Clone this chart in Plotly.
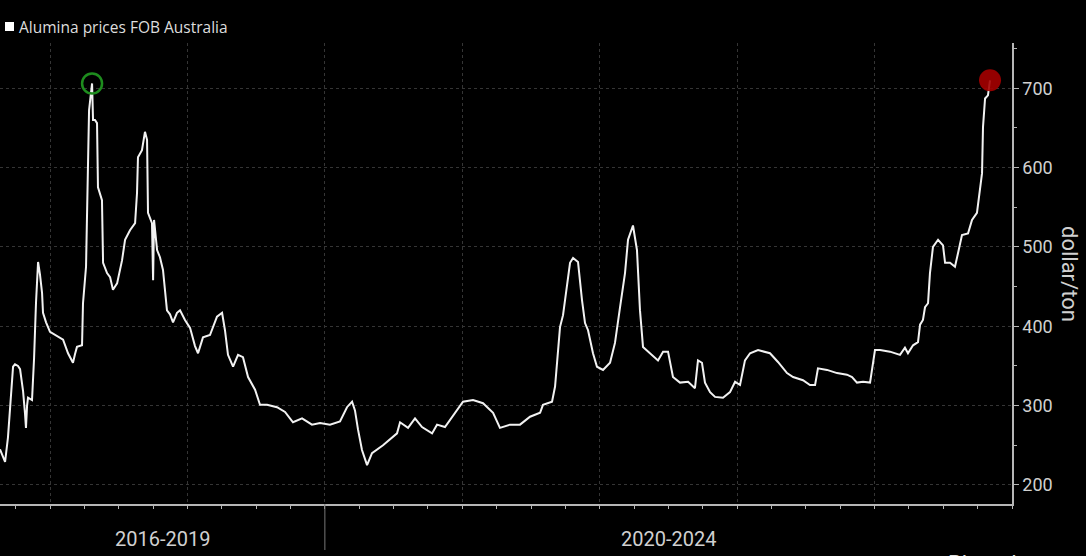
import plotly.graph_objects as go

# Decimal-year time stamps and alumina price, USD/ton
years = [
    2017.636, 2017.658, 2017.673, 2017.694, 2017.716, 2017.731, 2017.745, 2017.767, 2017.782, 2017.804,
    2017.818, 2017.825, 2017.833, 2017.840, 2017.869, 2017.884, 2017.898, 2017.913, 2017.927, 2017.942,
    2017.949, 2017.971, 2018.000, 2018.029, 2018.058, 2018.095, 2018.131, 2018.167, 2018.182, 2018.196,
    2018.233, 2018.240, 2018.262, 2018.269, 2018.277, 2018.284, 2018.306, 2018.313, 2018.327, 2018.342,
    2018.349, 2018.378, 2018.386, 2018.415, 2018.437, 2018.458, 2018.488, 2018.524, 2018.546, 2018.582,
    2018.619, 2018.633, 2018.640, 2018.669, 2018.691, 2018.706, 2018.713, 2018.742, 2018.750, 2018.757,
    2018.779, 2018.800, 2018.822, 2018.837, 2018.851, 2018.873, 2018.895, 2018.924, 2018.946, 2018.982,
    2019.019, 2019.055, 2019.077, 2019.113, 2019.164, 2019.215, 2019.252, 2019.273, 2019.295, 2019.332,
    2019.368, 2019.404, 2019.441, 2019.492, 2019.528, 2019.579, 2019.652, 2019.710, 2019.768, 2019.834,
    2019.906, 2019.965, 2020.037, 2020.110, 2020.161, 2020.198, 2020.219, 2020.241, 2020.270, 2020.307,
    2020.343, 2020.423, 2020.525, 2020.547, 2020.605, 2020.656, 2020.707, 2020.780, 2020.816, 2020.874,
    2020.947, 2021.005, 2021.078, 2021.151, 2021.224, 2021.274, 2021.347, 2021.420, 2021.493, 2021.566,
    2021.587, 2021.653, 2021.675, 2021.711, 2021.733, 2021.762, 2021.784, 2021.806, 2021.842, 2021.871,
    2021.893, 2021.915, 2021.951, 2021.980, 2022.024, 2022.075, 2022.111, 2022.148, 2022.184, 2022.206,
    2022.242, 2022.271, 2022.293, 2022.315, 2022.366, 2022.424, 2022.461, 2022.497, 2022.533, 2022.584,
    2022.643, 2022.693, 2022.715, 2022.744, 2022.766, 2022.803, 2022.839, 2022.897, 2022.948, 2022.985,
    2023.021, 2023.057, 2023.094, 2023.152, 2023.239, 2023.297, 2023.363, 2023.407, 2023.479, 2023.530,
    2023.567, 2023.588, 2023.654, 2023.727, 2023.799, 2023.836, 2023.872, 2023.916, 2023.967, 2024.003,
    2024.040, 2024.112, 2024.185, 2024.221, 2024.243, 2024.280, 2024.316, 2024.331, 2024.352, 2024.367,
    2024.389, 2024.403, 2024.425, 2024.462, 2024.498, 2024.513, 2024.549, 2024.585, 2024.607, 2024.636,
    2024.680, 2024.709, 2024.745, 2024.767, 2024.782, 2024.789, 2024.804, 2024.825, 2024.840,
]
prices = [
    245, 235, 229, 260, 320, 349, 352, 350, 346, 318,
    290, 272, 300, 310, 307, 360, 430, 481, 465, 442,
    417, 405, 393, 390, 387, 383, 366, 354, 365, 374,
    376, 429, 475, 540, 609, 672, 706, 660, 660, 656,
    575, 559, 480, 467, 462, 446, 454, 483, 509, 521,
    530, 568, 613, 622, 645, 635, 543, 530, 458, 534,
    496, 487, 471, 440, 420, 415, 405, 417, 420, 408,
    398, 375, 366, 386, 389, 412, 417, 395, 364, 349,
    364, 361, 336, 320, 301, 301, 298, 292, 279, 284,
    276, 278, 276, 280, 298, 305, 294, 270, 244, 225,
    240, 250, 265, 279, 272, 284, 273, 265, 276, 273,
    291, 305, 307, 303, 291, 272, 276, 276, 286, 291,
    301, 305, 324, 399, 414, 454, 480, 486, 481, 433,
    404, 395, 366, 349, 345, 354, 379, 424, 467, 509,
    527, 496, 420, 374, 366, 357, 368, 368, 336, 329,
    330, 322, 357, 354, 329, 317, 311, 310, 317, 330,
    326, 357, 366, 370, 366, 355, 341, 336, 332, 326,
    326, 347, 345, 341, 339, 336, 329, 330, 329, 370,
    370, 368, 364, 373, 366, 376, 380, 402, 408, 424,
    429, 467, 500, 509, 502, 480, 480, 475, 492, 515,
    517, 534, 543, 575, 593, 651, 687, 691, 710,
]

series_name = "Alumina prices FOB Australia"
period_labels = ["2016-2019", "2020-2024"]
period_centers = [2018.818, 2022.5]
period_split = 2020
y_ticks = [200, 300, 400, 500, 600, 700]
y_title = "dollar/ton"

# Peak markers derived from the data
first_part = [i for i, t in enumerate(years) if t < 2019]
i_peak1 = max(first_part, key=lambda i: prices[i])
i_last = len(prices) - 1

fig = go.Figure()
fig.add_trace(go.Scatter(
    x=years, y=prices, mode="lines",
    line=dict(color="#f2f2f2", width=2),
    showlegend=False, name=series_name,
))
fig.add_trace(go.Scatter(
    x=[years[i_peak1]], y=[prices[i_peak1]], mode="markers",
    marker=dict(size=20, color="rgba(0,0,0,0)", line=dict(color="#1e8c1e", width=2.5)),
    showlegend=False,
))
fig.add_trace(go.Scatter(
    x=[years[i_last]], y=[prices[i_last]], mode="markers",
    marker=dict(size=22, color="rgba(165,0,0,0.9)", line=dict(width=0)),
    showlegend=False,
))

grid = "#353535"
axis_col = "#b5b5b5"
fig.update_layout(
    width=1086, height=556,
    paper_bgcolor="black", plot_bgcolor="black",
    margin=dict(l=0, r=74, t=43, b=52),
    font=dict(family="Roboto, sans-serif", color="#d0d0d0"),
    xaxis=dict(
        range=[2017.636, 2025.0], tickmode="linear", tick0=2018, dtick=1,
        showgrid=True, gridcolor=grid, griddash="dot", gridwidth=1,
        showline=True, linecolor=axis_col, linewidth=1.5,
        ticks="outside", ticklen=3, tickcolor=axis_col,
        showticklabels=False, zeroline=False,
        minor=dict(tick0=2018, dtick=0.25, ticks="outside", ticklen=3,
                   tickcolor=axis_col, showgrid=False),
    ),
    yaxis=dict(
        range=[176, 757], side="right", tickvals=y_ticks,
        showgrid=True, gridcolor=grid, griddash="dot", gridwidth=1,
        showline=True, linecolor=axis_col, linewidth=1.5,
        ticks="outside", ticklen=5, tickcolor=axis_col,
        tickfont=dict(size=18, color="#d0d0d0"), zeroline=False,
        minor=dict(dtick=50, ticks="outside", ticklen=3, tickcolor=axis_col, showgrid=False),
    ),
    showlegend=False,
)

# Legend-like key at top left
fig.add_shape(type="rect", xref="paper", yref="paper",
              x0=5 / 1012, x1=14 / 1012, y0=(504 - 31) / 461, y1=(504 - 22) / 461,
              fillcolor="white", line=dict(width=0))
fig.add_annotation(text=series_name, xref="paper", yref="paper",
                   x=17 / 1012, y=(504 - 27) / 461, xanchor="left", yanchor="middle",
                   showarrow=False, font=dict(family="Open Sans, sans-serif", size=15.5, color="#dddddd"))

# Period labels and separator
for lab, cx in zip(period_labels, period_centers):
    fig.add_annotation(text=lab, x=cx, xref="x", yref="paper", y=(504 - 539) / 461,
                       yanchor="middle", showarrow=False,
                       font=dict(size=20, color="#d0d0d0"))
fig.add_shape(type="line", xref="x", yref="paper", x0=period_split, x1=period_split,
              y0=0, y1=(504 - 550) / 461, line=dict(color="#777777", width=1))

# Axis title (rotated, reading top-to-bottom)
fig.add_annotation(text=y_title, xref="paper", yref="paper", x=1070 / 1012, y=(504 - 274) / 461,
                   textangle=90, showarrow=False, xanchor="center", yanchor="middle",
                   font=dict(size=22, color="#d0d0d0"))

# Source text at bottom right (cut by page edge, as in the original)
fig.add_annotation(text="Bloomberg", xref="paper", yref="paper", x=946 / 1012, y=(504 - 549) / 461,
                   xanchor="left", yanchor="top", showarrow=False,
                   font=dict(size=22, color="#e0e0e0"))

fig.write_html(
    "out.html",
    config={"displayModeBar": False},
    post_script="document.body.style.margin='0';document.body.style.overflow='hidden';",
)
